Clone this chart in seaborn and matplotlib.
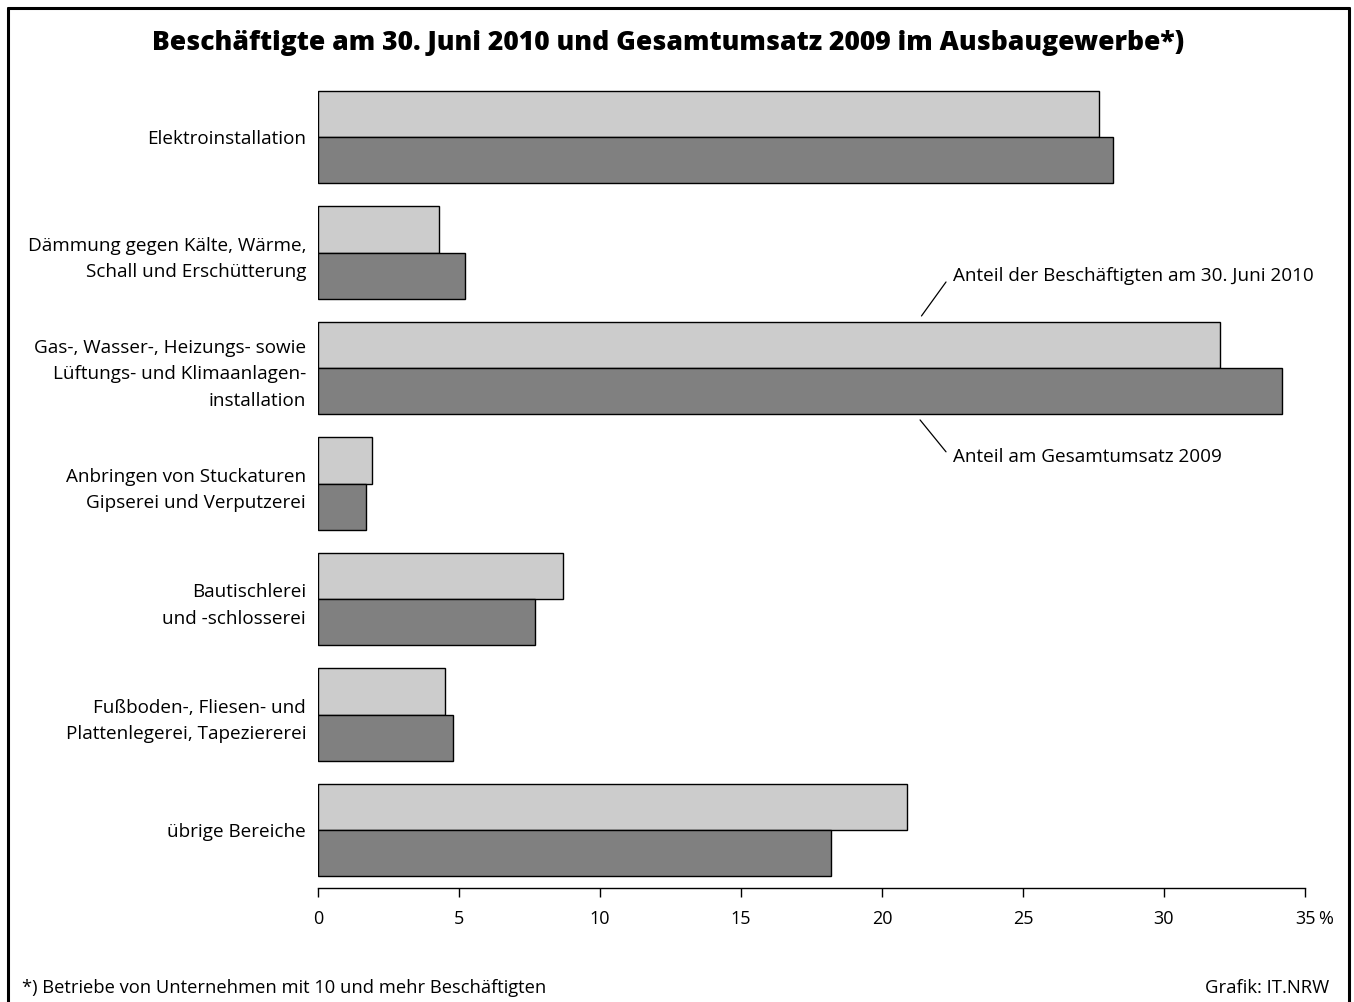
import matplotlib
matplotlib.use("Agg")
import matplotlib.pyplot as plt
import seaborn as sns
import pandas as pd
from matplotlib.lines import Line2D

categories = [
    "Elektroinstallation",
    "Dämmung gegen Kälte, Wärme,\nSchall und Erschütterung",
    "Gas-, Wasser-, Heizungs- sowie\nLüftungs- und Klimaanlagen-\ninstallation",
    "Anbringen von Stuckaturen\nGipserei und Verputzerei",
    "Bautischlerei\nund -schlosserei",
    "Fußboden-, Fliesen- und\nPlattenlegerei, Tapeziererei",
    "übrige Bereiche",
]
beschaeftigte = [27.7, 4.3, 32.0, 1.9, 8.7, 4.5, 20.9]
umsatz = [28.2, 5.2, 34.2, 1.7, 7.7, 4.8, 18.2]
series_names = ["Anteil der Beschäftigten am 30. Juni 2010", "Anteil am Gesamtumsatz 2009"]
x_ticks = [0, 5, 10, 15, 20, 25, 30, 35]

df = pd.DataFrame({
    "Bereich": categories * 2,
    "Serie": [series_names[0]] * len(categories) + [series_names[1]] * len(categories),
    "Anteil": beschaeftigte + umsatz,
})

sns.set_theme(style="white")
plt.rcParams["font.family"] = ["Open Sans", "DejaVu Sans"]
for k in ["text.color", "axes.labelcolor", "xtick.color", "ytick.color"]:
    plt.rcParams[k] = "black"

FS = 13.6

fig = plt.figure(figsize=(13.54, 10.02), dpi=100)
ax = fig.add_axes([318 / 1354, 1 - 888 / 1002, (1305 - 318) / 1354, (888 - 79.2) / 1002])

sns.barplot(data=df, y="Bereich", x="Anteil", hue="Serie", order=categories,
            hue_order=series_names, palette=["#cccccc", "#808080"], orient="h",
            width=0.8, edgecolor="black", linewidth=1.0, ax=ax, legend=False, saturation=1)

ax.set_xlim(0, 35)
ax.set_ylim(6.5, -0.5)
ax.set_xticks(x_ticks)
ax.set_xticklabels([str(t) for t in x_ticks], fontsize=13)
ax.set_xlabel("")
ax.set_ylabel("")
ax.tick_params(axis="x", direction="out", length=6.5, width=1, color="black", pad=9, bottom=True)
ax.tick_params(axis="y", length=0, pad=8.5, labelsize=FS)
for lbl in ax.get_yticklabels():
    lbl.set_horizontalalignment("right")
    lbl.set_multialignment("right")
    lbl.set_linespacing(1.6)
for s in ["top", "right", "left"]:
    ax.spines[s].set_visible(False)
ax.spines["bottom"].set_color("black")
ax.spines["bottom"].set_linewidth(1)

ax.annotate("%", xy=(35, 0), xycoords=("data", "axes fraction"), xytext=(9.5, -15.5),
            textcoords="offset points", ha="left", va="top", fontsize=13)

# callouts
ax.plot([21.4, 22.27], [1.549, 1.255], color="black", lw=0.9, clip_on=False)
ax.text(22.52, 1.203, series_names[0], ha="left", va="center", fontsize=FS)
ax.plot([21.35, 22.27], [2.449, 2.725], color="black", lw=0.9, clip_on=False)
ax.text(22.52, 2.769, series_names[1], ha="left", va="center", fontsize=FS)

# title and footer
fig.text(152 / 1354, 1 - 43 / 1002, "Beschäftigte am 30. Juni 2010 und Gesamtumsatz 2009 im Ausbaugewerbe*)",
         ha="left", va="center", fontsize=19.1, fontweight="heavy")
fig.text(22 / 1354, 1 - 988 / 1002, "*) Betriebe von Unternehmen mit 10 und mehr Beschäftigten",
         ha="left", va="center", fontsize=13.2)
fig.text(1329 / 1354, 1 - 988 / 1002, "Grafik: IT.NRW", ha="right", va="center", fontsize=13.3)

# frame (left, top, right)
x0, x1, y0 = 7.5 / 1354, 1348.5 / 1354, 1 - 7.5 / 1002
for xs, ys in [([x0, x0], [y0, -0.01]), ([x0, x1], [y0, y0]), ([x1, x1], [y0, -0.01])]:
    fig.add_artist(Line2D(xs, ys, color="black", lw=2.2, transform=fig.transFigure))

fig.savefig("out.png", dpi=100)
